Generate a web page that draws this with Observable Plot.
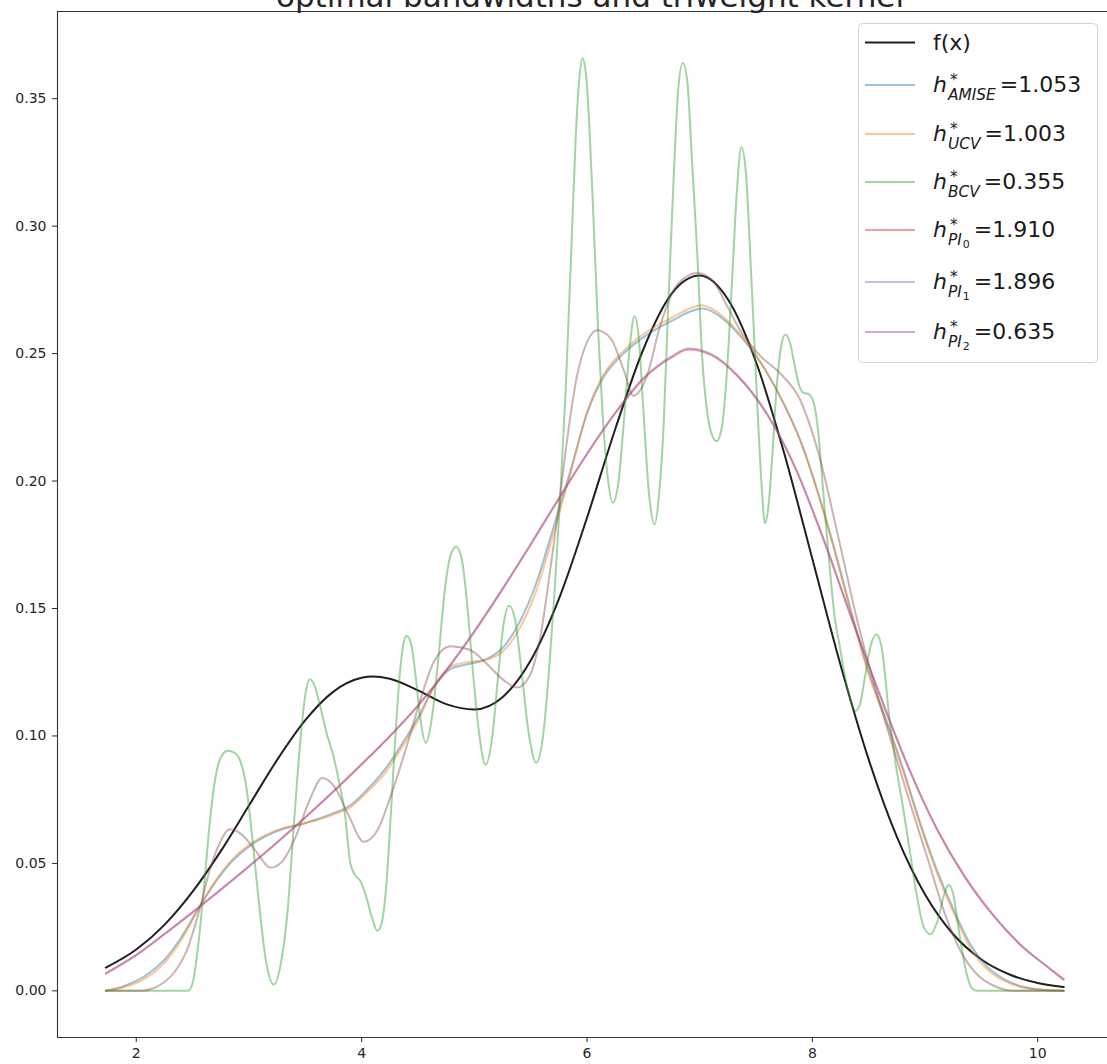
<!DOCTYPE html>
<html>
<head>
<meta charset="utf-8">
<script src="https://cdn.jsdelivr.net/npm/d3@7"></script>
<script src="https://cdn.jsdelivr.net/npm/@observablehq/plot@0.6"></script>
<style>
  html, body { margin: 0; padding: 0; background: #fff; overflow: hidden; }
  #chart svg { display: block; }
</style>
</head>
<body>
<div id="chart"></div>
<script>
// ---- true density f(x) ----
const fX = [1.73, 2.00, 2.25, 2.50, 2.75, 3.00, 3.25, 3.50, 3.75, 4.00, 4.10, 4.25, 4.50, 4.75, 5.00, 5.25, 5.50, 5.75,
            6.00, 6.25, 6.50, 6.75, 7.00, 7.25, 7.50, 7.75, 8.00, 8.25, 8.50, 8.75, 9.00, 9.25, 9.50, 9.75, 10.00, 10.23];
const fY = [0.0091, 0.0162, 0.0259, 0.0389, 0.0548, 0.0727, 0.0906, 0.1062, 0.1174, 0.1228, 0.1233, 0.1224, 0.1179, 0.1125,
            0.1104, 0.1152, 0.1296, 0.1537, 0.1856, 0.2203, 0.2517, 0.2734, 0.2806, 0.2713, 0.2467, 0.2109, 0.1694, 0.1278,
            0.0907, 0.0604, 0.0378, 0.0222, 0.0123, 0.0064, 0.0031, 0.0015];

// ---- bandwidth selectors (legend order) ----
const selectors  = ["AMISE", "UCV", "BCV", "PI", "PI", "PI"];
const selectorSub = [null, null, null, "0", "1", "2"];
const bandwidths = [1.053, 1.003, 0.355, 1.910, 1.896, 0.635];

// ---- KDE estimates, h = 1.053 (AMISE) and h = 1.003 (UCV) ----
const wideX = [1.73, 1.90, 2.10, 2.25, 2.40, 2.55, 2.70, 2.85, 3.00, 3.15, 3.30, 3.45, 3.60, 3.75, 3.90, 4.05, 4.20, 4.35, 4.50,
               4.65, 4.80, 4.95, 5.10, 5.25, 5.40, 5.55, 5.70, 5.85, 6.00, 6.15, 6.30, 6.45, 6.60, 6.75, 6.90, 7.02, 7.15, 7.30,
               7.45, 7.60, 7.75, 7.90, 8.05, 8.20, 8.35, 8.50, 8.65, 8.80, 8.95, 9.10, 9.25, 9.40, 9.55, 9.70, 9.85, 10.00, 10.23];
const amiseY = [0.0000, 0.0020, 0.0065, 0.0122, 0.0210, 0.0322, 0.0425, 0.0508, 0.0566, 0.0607, 0.0635, 0.0652, 0.0672, 0.0697,
                0.0728, 0.0790, 0.0865, 0.0962, 0.1072, 0.1198, 0.1265, 0.1282, 0.1300, 0.1345, 0.1445, 0.1600, 0.1815, 0.2035,
                0.2265, 0.2410, 0.2490, 0.2548, 0.2592, 0.2628, 0.2662, 0.2677, 0.2655, 0.2598, 0.2520, 0.2422, 0.2300, 0.2152,
                0.1955, 0.1728, 0.1480, 0.1252, 0.1070, 0.0878, 0.0668, 0.0480, 0.0322, 0.0184, 0.0096, 0.0046, 0.0018, 0.0006, 0.0000];
const ucvY   = [0.0000, 0.0015, 0.0055, 0.0110, 0.0200, 0.0320, 0.0430, 0.0515, 0.0572, 0.0612, 0.0638, 0.0652, 0.0670, 0.0692,
                0.0720, 0.0780, 0.0850, 0.0950, 0.1060, 0.1200, 0.1275, 0.1290, 0.1298, 0.1330, 0.1420, 0.1570, 0.1790, 0.2025,
                0.2270, 0.2420, 0.2500, 0.2560, 0.2605, 0.2640, 0.2675, 0.2690, 0.2665, 0.2605, 0.2525, 0.2425, 0.2300, 0.2150,
                0.1950, 0.1720, 0.1470, 0.1240, 0.1060, 0.0870, 0.0660, 0.0470, 0.0310, 0.0170, 0.0085, 0.0040, 0.0015, 0.0005, 0.0000];

// ---- KDE estimate, h = 0.355 (BCV) ----
const bcvX = [1.73, 2.46, 2.50, 2.55, 2.60, 2.65, 2.70, 2.75, 2.81, 2.87, 2.92, 2.97, 3.03, 3.09, 3.15, 3.22, 3.28, 3.34, 3.40,
              3.46, 3.50, 3.54, 3.58, 3.63, 3.69, 3.75, 3.80, 3.85, 3.90, 3.94, 3.99, 4.04, 4.09, 4.14, 4.18, 4.22, 4.26, 4.30,
              4.34, 4.37, 4.40, 4.44, 4.48, 4.52, 4.57, 4.62, 4.68, 4.74, 4.79, 4.84, 4.89, 4.94, 4.99, 5.04, 5.10, 5.16, 5.21,
              5.26, 5.31, 5.36, 5.42, 5.48, 5.55, 5.61, 5.66, 5.71, 5.76, 5.81, 5.86, 5.90, 5.93, 5.96, 5.99, 6.02, 6.06, 6.10,
              6.14, 6.18, 6.23, 6.28, 6.33, 6.38, 6.42, 6.46, 6.50, 6.55, 6.60, 6.64, 6.68, 6.72, 6.77, 6.81, 6.85, 6.89, 6.93,
              6.98, 7.02, 7.07, 7.11, 7.15, 7.20, 7.24, 7.29, 7.33, 7.37, 7.41, 7.45, 7.49, 7.52, 7.55, 7.58, 7.61, 7.64, 7.68,
              7.72, 7.76, 7.80, 7.84, 7.88, 7.92, 7.97, 8.01, 8.05, 8.08, 8.12, 8.16, 8.20, 8.24, 8.29, 8.34, 8.38, 8.42, 8.47,
              8.52, 8.57, 8.62, 8.68, 8.74, 8.80, 8.86, 8.93, 8.99, 9.05, 9.11, 9.17, 9.21, 9.25, 9.31, 9.37, 9.42, 9.46, 10.23];
const bcvY = [0, 0, 0.0030, 0.0180, 0.0400, 0.0650, 0.0830, 0.0915, 0.0942, 0.0935, 0.0905, 0.0820, 0.0600, 0.0340, 0.0120,
              0.0025, 0.0100, 0.0300, 0.0660, 0.1000, 0.1160, 0.1222, 0.1200, 0.1120, 0.1010, 0.0920, 0.0820, 0.0700, 0.0500,
              0.0455, 0.0430, 0.0370, 0.0290, 0.0235, 0.0270, 0.0420, 0.0700, 0.1000, 0.1250, 0.1360, 0.1392, 0.1360, 0.1230,
              0.1070, 0.0973, 0.1060, 0.1300, 0.1580, 0.1710, 0.1742, 0.1690, 0.1500, 0.1240, 0.1020, 0.0887, 0.1000, 0.1230,
              0.1440, 0.1511, 0.1460, 0.1250, 0.1020, 0.0895, 0.1000, 0.1240, 0.1550, 0.1920, 0.2350, 0.2900, 0.3350, 0.3570,
              0.3659, 0.3600, 0.3400, 0.3000, 0.2580, 0.2250, 0.2030, 0.1915, 0.2000, 0.2250, 0.2530, 0.2646, 0.2560, 0.2280,
              0.1950, 0.1830, 0.1950, 0.2220, 0.2680, 0.3200, 0.3540, 0.3640, 0.3570, 0.3270, 0.2880, 0.2500, 0.2260, 0.2180,
              0.2156, 0.2220, 0.2418, 0.2810, 0.3137, 0.3309, 0.3210, 0.2875, 0.2500, 0.2220, 0.1980, 0.1835, 0.1900, 0.2070,
              0.2350, 0.2522, 0.2575, 0.2545, 0.2460, 0.2379, 0.2346, 0.2340, 0.2310, 0.2200, 0.2050, 0.1830, 0.1630, 0.1460,
              0.1360, 0.1230, 0.1140, 0.1098, 0.1120, 0.1240, 0.1359, 0.1398, 0.1333, 0.1085, 0.0889, 0.0732, 0.0562, 0.0366,
              0.0248, 0.0222, 0.0274, 0.0379, 0.0416, 0.0379, 0.0209, 0.0065, 0.0008, 0, 0];

// ---- KDE estimates, plug-in h = 1.910 (PI0) and h = 1.896 (PI1) ----
const piWideX = [1.73, 2.00, 2.25, 2.50, 2.75, 3.00, 3.25, 3.50, 3.75, 4.00, 4.25, 4.50, 4.75, 5.00, 5.25, 5.50, 5.75, 6.00,
                 6.25, 6.50, 6.75, 6.90, 7.10, 7.35, 7.60, 7.85, 8.10, 8.35, 8.60, 8.85, 9.10, 9.35, 9.60, 9.85, 10.10, 10.23];
const pi0Y = [0.0068, 0.0140, 0.0222, 0.0308, 0.0397, 0.0488, 0.0582, 0.0680, 0.0782, 0.0888, 0.0998, 0.1118, 0.1255, 0.1408,
              0.1575, 0.1750, 0.1930, 0.2105, 0.2265, 0.2400, 0.2485, 0.2516, 0.2495, 0.2405, 0.2260, 0.2050, 0.1770, 0.1460,
              0.1160, 0.0880, 0.0640, 0.0450, 0.0300, 0.0180, 0.0090, 0.0045];
const pi1Y = [0.0069, 0.0141, 0.0223, 0.0309, 0.0398, 0.0489, 0.0583, 0.0681, 0.0783, 0.0890, 0.1000, 0.1120, 0.1258, 0.1411,
              0.1578, 0.1753, 0.1933, 0.2108, 0.2268, 0.2404, 0.2489, 0.2520, 0.2499, 0.2408, 0.2262, 0.2051, 0.1770, 0.1459,
              0.1158, 0.0878, 0.0638, 0.0448, 0.0298, 0.0178, 0.0089, 0.0044];

// ---- KDE estimate, plug-in h = 0.635 (PI2) ----
const pi2X = [1.73, 2.05, 2.15, 2.25, 2.35, 2.45, 2.55, 2.65, 2.74, 2.83, 2.94, 3.06, 3.19, 3.30, 3.42, 3.54, 3.65, 3.76, 3.88,
              4.02, 4.14, 4.27, 4.40, 4.52, 4.64, 4.79, 4.96, 5.11, 5.26, 5.38, 5.49, 5.59, 5.67, 5.75, 5.82, 5.91, 6.00, 6.09,
              6.21, 6.33, 6.41, 6.53, 6.65, 6.80, 6.98, 7.12, 7.24, 7.36, 7.54, 7.72, 7.89, 8.06, 8.23, 8.40, 8.57, 8.72, 8.87,
              9.02, 9.17, 9.31, 9.46, 9.61, 9.79, 10.23];
const pi2Y = [0, 0, 0.0010, 0.0035, 0.0080, 0.0160, 0.0300, 0.0470, 0.0580, 0.0634, 0.0612, 0.0549, 0.0483, 0.0510, 0.0610,
              0.0750, 0.0835, 0.0800, 0.0693, 0.0585, 0.0630, 0.0780, 0.0960, 0.1140, 0.1290, 0.1352, 0.1338, 0.1283, 0.1219,
              0.1190, 0.1235, 0.1400, 0.1640, 0.1900, 0.2150, 0.2410, 0.2545, 0.2592, 0.2560, 0.2430, 0.2335, 0.2410, 0.2610,
              0.2770, 0.2816, 0.2784, 0.2690, 0.2590, 0.2490, 0.2420, 0.2320, 0.2100, 0.1780, 0.1450, 0.1170, 0.0950, 0.0732,
              0.0523, 0.0310, 0.0160, 0.0065, 0.0020, 0, 0];

// ---- axes ----
const xTicks = [2, 4, 6, 8, 10];
const yTicks = [0, 0.05, 0.10, 0.15, 0.20, 0.25, 0.30, 0.35];
const xDomain = [1.301, 10.619];
const yDomain = [-0.0183, 0.3842];
const title = "optimal bandwidths and triweight kernel";

const palette = ["#1f77b4", "#ff7f0e", "#2ca02c", "#d62728", "#9467bd", "#8c564b"];
const kdeAlpha = 0.45;

const curves = [
  {xs: fX, ys: fY, stroke: "#000000", opacity: 0.88},
  {xs: wideX, ys: amiseY, stroke: palette[0], opacity: kdeAlpha},
  {xs: wideX, ys: ucvY, stroke: palette[1], opacity: kdeAlpha},
  {xs: bcvX, ys: bcvY, stroke: palette[2], opacity: kdeAlpha},
  {xs: piWideX, ys: pi0Y, stroke: palette[3], opacity: kdeAlpha},
  {xs: piWideX, ys: pi1Y, stroke: palette[4], opacity: kdeAlpha},
  {xs: pi2X, ys: pi2Y, stroke: palette[5], opacity: kdeAlpha}
];

const lineMarks = curves.map(c =>
  Plot.line(c.xs.map((x, i) => ({x, y: c.ys[i]})), {
    x: "x", y: "y",
    stroke: c.stroke, strokeOpacity: c.opacity, strokeWidth: 2,
    curve: "monotone-x"
  })
);

const chart = Plot.plot({
  width: 1107,
  height: 1064,
  marginLeft: 57,
  marginRight: 0,
  marginTop: 11,
  marginBottom: 27,
  style: {fontFamily: "DejaVu Sans, sans-serif", fontSize: "14px", color: "#262626", background: "#ffffff"},
  x: {domain: xDomain, ticks: xTicks, tickFormat: d => String(d), tickSize: 5, tickPadding: 6, label: null},
  y: {domain: yDomain, ticks: yTicks, tickFormat: d3.format(".2f"), tickSize: 5, tickPadding: 6, label: null},
  marks: [
    ...lineMarks,
    Plot.ruleX([xDomain[0]], {stroke: "#333", strokeWidth: 1.1}),
    Plot.ruleY([yDomain[0], yDomain[1]], {stroke: "#333", strokeWidth: 1.1})
  ]
});

document.getElementById("chart").appendChild(chart);

const svg = d3.select(chart);

// title, drawn over the top spine area
svg.append("text")
  .attr("x", 590).attr("y", 7)
  .attr("text-anchor", "middle")
  .attr("font-family", "DejaVu Sans, sans-serif")
  .attr("font-size", 31)
  .attr("fill", "#262626")
  .text(title);

// legend box in the upper right corner
const lg = svg.append("g")
  .attr("font-family", "DejaVu Sans, sans-serif")
  .attr("text-anchor", "start")
  .attr("fill", "#1a1a1a");
lg.append("rect")
  .attr("x", 858.5).attr("y", 23.5).attr("width", 239).attr("height", 339).attr("rx", 4)
  .attr("fill", "#ffffff").attr("fill-opacity", 0.8)
  .attr("stroke", "#d3d3d3").attr("stroke-width", 1);

const handleY = [42.5, 85, 134, 182, 230, 282, 332];
const fmt = d3.format(".3f");

curves.forEach((c, i) => {
  const hy = handleY[i];
  lg.append("line")
    .attr("x1", 865).attr("x2", 915).attr("y1", hy).attr("y2", hy)
    .attr("stroke", c.stroke).attr("stroke-opacity", c.opacity).attr("stroke-width", 2);
  if (i === 0) {
    lg.append("text").attr("x", 933).attr("y", hy + 7.5).attr("font-size", 22).text("f(x)");
    return;
  }
  const by = hy + 6.5;
  const k = i - 1;
  lg.append("text").attr("x", 933).attr("y", by).attr("font-size", 22).attr("font-style", "italic").text("h");
  lg.append("text").attr("x", 950).attr("y", by - 7).attr("font-size", 15.4).text("*");
  const sub = lg.append("text").attr("x", 948).attr("y", by + 8.5)
    .attr("font-size", 15.4).attr("font-style", "italic").text(selectors[k]);
  let end = 948 + sub.node().getComputedTextLength();
  if (selectorSub[k] != null) {
    const ss = lg.append("text").attr("x", end + 1).attr("y", by + 11).attr("font-size", 11).text(selectorSub[k]);
    end += 1 + ss.node().getComputedTextLength();
  }
  lg.append("text").attr("x", end + 4).attr("y", by).attr("font-size", 22).text("=" + fmt(bandwidths[k]));
});
</script>
</body>
</html>
